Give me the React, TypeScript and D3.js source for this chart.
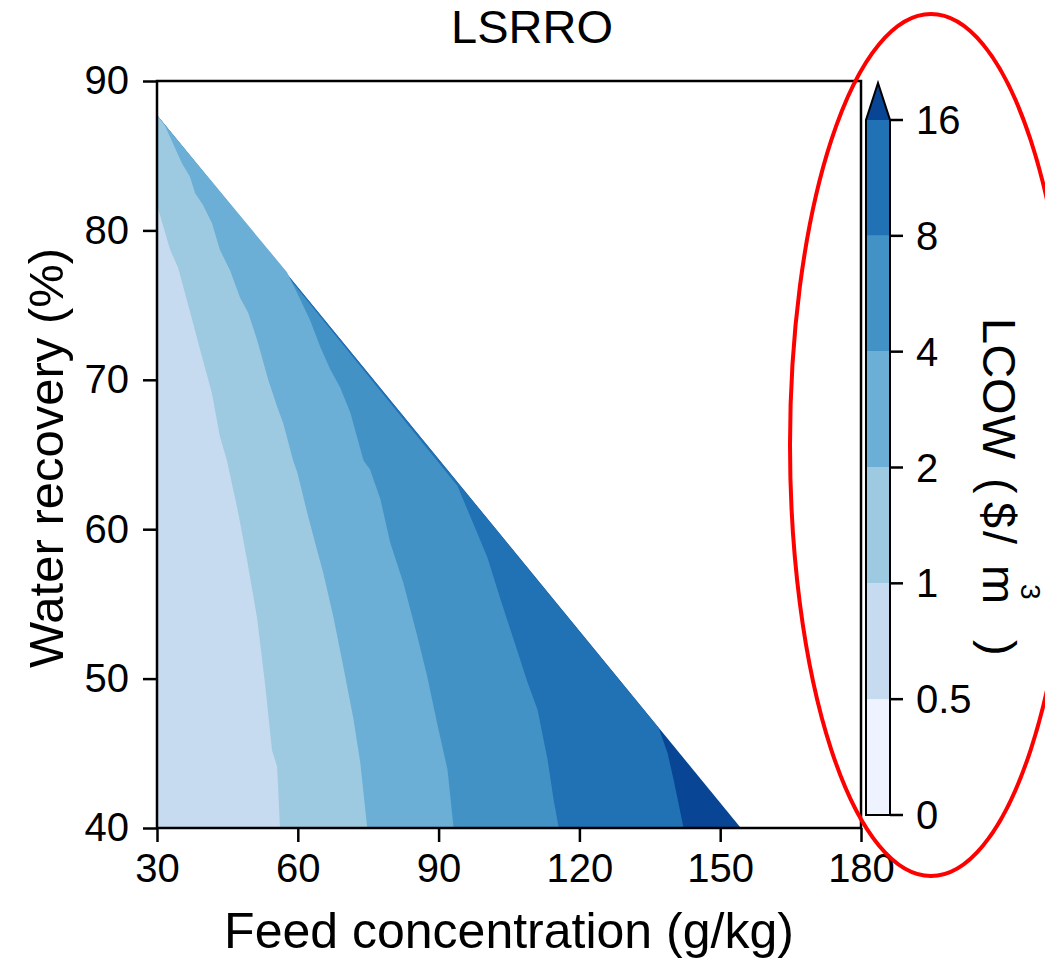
import React, { useEffect, useRef } from 'react';
import * as d3 from 'd3';

// colour levels of LCOW ($/m3)
const levels = [0, 0.5, 1, 2, 4, 8, 16];
const levelLabels = ['0', '0.5', '1', '2', '4', '8', '16'];
const levelColors = ['#eff3ff', '#c6dbef', '#9ecae1', '#6baed6', '#4292c6', '#2171b5', '#084594'];

const xTicks = [30, 60, 90, 120, 150, 180];
const yTicks = [40, 50, 60, 70, 80, 90];

// feasible edge: [feed g/kg, recovery %]
const feasibleEdge = [[30, 87.7], [154.4, 40]];

// contour lines, top to bottom: [feed g/kg, recovery %]
const line05 = [
  [30, 81.7], [32.8, 78.7], [34.5, 77.5], [37.5, 74.0], [39.8, 71.3], [41.7, 69.1],
  [43.4, 66.2], [44.9, 64.6], [47.3, 61.1], [49.2, 57.9], [51.3, 54.1], [53.0, 49.7],
  [54.5, 45.2], [55.6, 44.1], [56.2, 40],
];
const line1 = [
  [31.7, 87.0], [35.3, 84.5], [37.0, 83.6], [38.1, 82.5], [39.8, 81.7], [41.7, 80.5],
  [43.4, 78.7], [45.6, 77.3], [47.7, 75.5], [49.4, 74.5], [51.3, 72.7], [53.7, 70.0],
  [55.6, 68.2], [56.9, 67.1], [59.0, 64.6], [59.9, 63.8], [62.0, 61.1], [64.1, 58.6],
  [65.4, 57.1], [67.6, 54.1], [69.7, 50.8], [71.8, 47.4], [73.3, 44.4], [74.8, 40],
];
const line2 = [
  [57.7, 77.2], [59.9, 75.8], [62.6, 74.0], [64.8, 72.2], [66.9, 70.7], [69.0, 69.5],
  [71.2, 67.8], [74.0, 64.6], [75.4, 64.0], [77.6, 62.0], [79.7, 59.1], [82.5, 56.4],
  [85.5, 52.8], [87.6, 50.1], [89.7, 47.0], [91.9, 43.9], [93.2, 40],
];
const line4 = [
  [94.0, 62.9], [98.3, 59.7], [100.4, 58.1], [103.2, 55.3], [106.0, 52.6], [109.0, 49.7],
  [111.1, 47.9], [113.2, 44.6], [114.5, 41.9], [115.6, 40],
];
const line8 = [
  [136.9, 46.7], [138.8, 45.0], [140.1, 43.2], [142.2, 40],
];

const FONT = '"Liberation Sans", Arial, Helvetica, sans-serif';

export default function App() {
  const ref = useRef<SVGSVGElement>(null);

  useEffect(() => {
    document.body.style.margin = '0';
    const svg = d3.select(ref.current);
    svg.selectAll('*').remove();

    const x = d3.scaleLinear().domain([30, 180]).range([157, 861]);
    const y = d3.scaleLinear().domain([40, 90]).range([828, 81]);
    const toPx = (p: number[]) => [x(p[0]), y(p[1])] as [number, number];
    const line = d3.line();

    const plot = svg.append('g');

    // whole feasible triangle in the top colour, then lower bands painted over it
    const apex = feasibleEdge[0];
    plot.append('path')
      .attr('d', line([apex, feasibleEdge[1], [30, 40]].map(toPx)) + 'Z')
      .attr('fill', levelColors[6]);

    const bands = [line8, line4, line2, line1, line05];
    bands.forEach((b, i) => {
      const pts = [...b, [30, 40]];
      if (b[0][0] > 30) pts.push(apex);
      plot.append('path')
        .attr('d', line(pts.map(toPx)) + 'Z')
        .attr('fill', levelColors[5 - i]);
    });

    // frame
    svg.append('rect')
      .attr('x', 157).attr('y', 81)
      .attr('width', 704).attr('height', 747)
      .attr('fill', 'none').attr('stroke', '#000').attr('stroke-width', 2.5);

    const xAxis = svg.append('g')
      .attr('transform', 'translate(0,828)')
      .call(d3.axisBottom(x).tickValues(xTicks).tickSize(14).tickSizeOuter(0).tickPadding(12).tickFormat(d3.format('d')));
    const yAxis = svg.append('g')
      .attr('transform', 'translate(157,0)')
      .call(d3.axisLeft(y).tickValues(yTicks).tickSize(14).tickSizeOuter(0).tickPadding(14).tickFormat(d3.format('d')));
    [xAxis, yAxis].forEach(a => {
      a.select('.domain').remove();
      a.selectAll('line').attr('stroke', '#000').attr('stroke-width', 2.5);
      a.selectAll('text').attr('font-size', 40).attr('font-family', FONT).attr('fill', '#000');
    });

    // colorbar
    const cx0 = 866, cx1 = 890;
    const cy = d3.scaleLinear().domain([0, levels.length - 1]).range([815, 120]);
    const cb = svg.append('g');
    for (let i = 0; i < levels.length - 1; i++) {
      cb.append('rect')
        .attr('x', cx0).attr('y', cy(i + 1))
        .attr('width', cx1 - cx0).attr('height', cy(i) - cy(i + 1))
        .attr('fill', levelColors[i]);
    }
    cb.append('path')
      .attr('d', `M${cx0},${cy(6)}L${(cx0 + cx1) / 2},83L${cx1},${cy(6)}Z`)
      .attr('fill', levelColors[6]);
    cb.append('path')
      .attr('d', `M${cx0},${cy(0)}L${cx0},${cy(6)}L${(cx0 + cx1) / 2},83L${cx1},${cy(6)}L${cx1},${cy(0)}Z`)
      .attr('fill', 'none').attr('stroke', '#000').attr('stroke-width', 2);
    levels.forEach((v, i) => {
      cb.append('line')
        .attr('x1', cx1).attr('x2', cx1 + 13)
        .attr('y1', cy(i)).attr('y2', cy(i))
        .attr('stroke', '#000').attr('stroke-width', 2.5);
      cb.append('text')
        .attr('x', cx1 + 26).attr('y', cy(i)).attr('dy', '0.35em')
        .attr('font-size', 40).attr('font-family', FONT)
        .text(levelLabels[i]);
    });

    // colorbar label
    const cl = svg.append('g').attr('transform', 'translate(983,318) rotate(90)')
      .attr('font-family', FONT).attr('fill', '#000');
    const main = cl.append('text').attr('font-size', 47);
    main.append('tspan').attr('x', 0).text('LCOW');
    main.append('tspan').attr('x', 160).text('(');
    main.append('tspan').attr('x', 184).text('$');
    main.append('tspan').attr('x', 213).text('/');
    main.append('tspan').attr('x', 247).text('m');
    cl.append('text').attr('x', 266).attr('y', -38).attr('font-size', 28).text('3');
    cl.append('text').attr('x', 322).attr('font-size', 47).text(')');

    // titles
    svg.append('text')
      .attr('x', 532).attr('y', 43).attr('text-anchor', 'middle')
      .attr('font-size', 47).attr('font-family', FONT)
      .text('LSRRO');
    svg.append('text')
      .attr('x', 509).attr('y', 948).attr('text-anchor', 'middle')
      .attr('font-size', 50).attr('font-family', FONT)
      .text('Feed concentration (g/kg)');
    svg.append('text')
      .attr('transform', 'translate(63,458) rotate(-90)')
      .attr('text-anchor', 'middle')
      .attr('font-size', 49).attr('font-family', FONT)
      .text('Water recovery (%)');

    // red highlight ellipse
    svg.append('ellipse')
      .attr('cx', 931).attr('cy', 445).attr('rx', 141).attr('ry', 431)
      .attr('fill', 'none').attr('stroke', '#ff0000').attr('stroke-width', 4);
  }, []);

  return <svg ref={ref} width={1045} height={961} style={{ display: 'block', background: '#fff' }} />;
}
